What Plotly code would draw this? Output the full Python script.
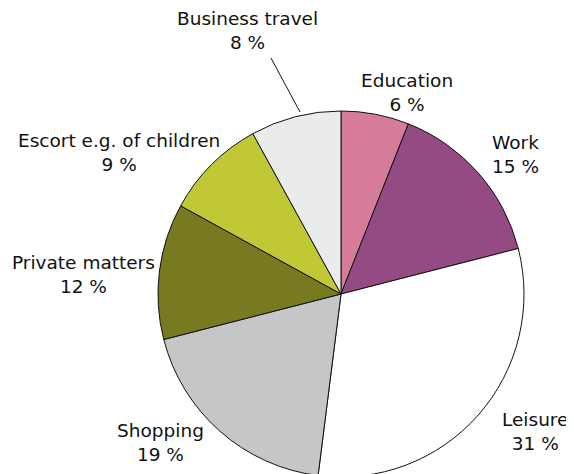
import plotly.graph_objects as go

# Trip purposes, share of trips (%)
purposes = ["Education", "Work", "Leisure", "Shopping",
            "Private matters", "Escort e.g. of children", "Business travel"]
shares = [6, 15, 31, 19, 12, 9, 8]
colors = ["#d67b9a", "#944b84", "#ffffff", "#c5c6c8",
          "#787a22", "#c0c935", "#eaeceb"]

W, H = 574, 474
OFF = 8  # page body margin pushes the figure 8px right/down

# pie centre and radius (page pixels)
cx, cy, r = 341 - OFF, 294 - OFF, 183

# label placement in page pixels (centre of the two-line text block)
label_pos = [(407, 92), (516, 154), (535, 431), (161, 442),
             (83, 274), (119, 152), (247, 31)]

fig = go.Figure()

fig.add_trace(go.Pie(
    labels=purposes,
    values=shares,
    sort=False,
    direction="clockwise",
    rotation=0,
    marker=dict(colors=colors, line=dict(color="#111111", width=1)),
    textinfo="none",
    hoverinfo="label+percent",
    showlegend=False,
    domain=dict(x=[(cx - r) / W, (cx + r) / W],
                y=[(H - cy - r) / H, (H - cy + r) / H]),
))

for name, val, (px, py) in zip(purposes, shares, label_pos):
    fig.add_annotation(
        x=(px - OFF) / W, y=1 - (py - OFF) / H, xref="paper", yref="paper",
        text=f"{name}<br>{val} %", showarrow=False,
        xanchor="center", yanchor="middle", align="center",
        font=dict(family="DejaVu Sans, Verdana, sans-serif", size=18.5, color="#111111"),
    )

# leader line for Business travel
fig.add_shape(type="line", xref="paper", yref="paper",
              x0=(271 - OFF) / W, y0=1 - (58 - OFF) / H,
              x1=(300 - OFF) / W, y1=1 - (112 - OFF) / H,
              line=dict(color="#111111", width=1))

fig.update_layout(
    width=W, height=H,
    margin=dict(l=0, r=0, t=0, b=0),
    paper_bgcolor="white",
    plot_bgcolor="white",
)

fig.write_html("out.html")
